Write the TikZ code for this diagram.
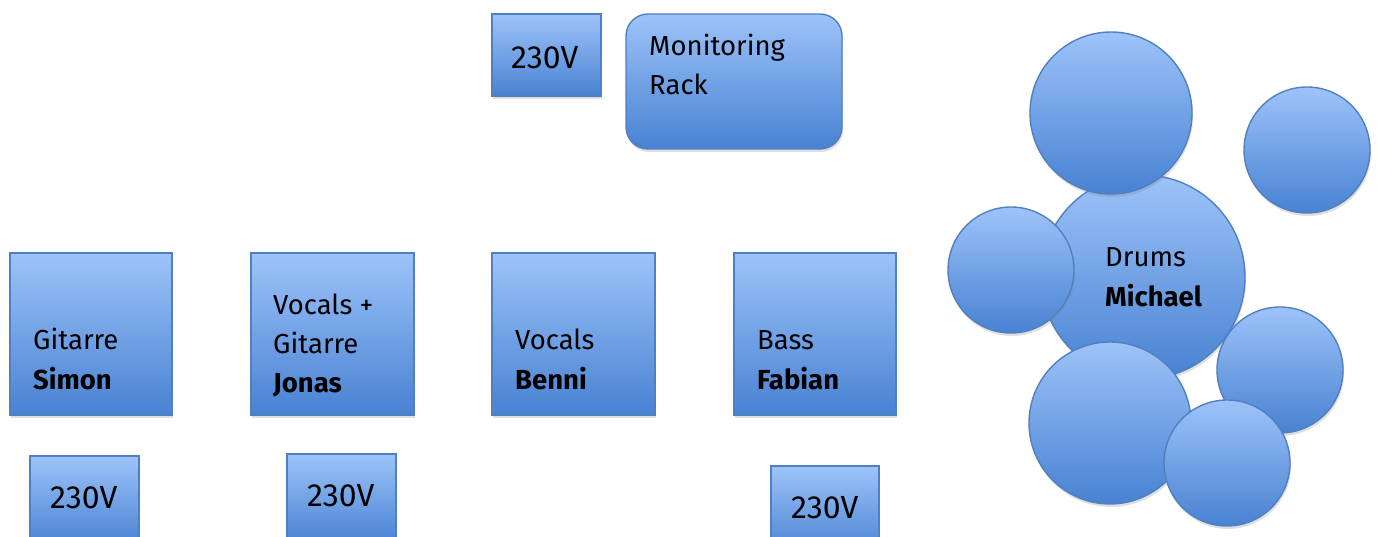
\documentclass[tikz,border=0pt]{standalone}
\usepackage{fontspec}
\setmainfont{Fira Sans}
\usetikzlibrary{shadows}
\definecolor{bxtop}{RGB}{157,195,249}
\definecolor{bxmid}{RGB}{137,179,240}
\definecolor{bxbot}{RGB}{72,130,210}
\definecolor{bxline}{RGB}{80,128,192}
\tikzset{
  shade/.style={top color=bxtop, middle color=bxmid, bottom color=bxbot, draw=bxline, line width=1.4pt,
    drop shadow={shadow xshift=1pt, shadow yshift=-3pt, opacity=0.25}},
  bx/.style={shade, rectangle, inner sep=0pt, minimum width=#1},
  lbl/.style={anchor=base west, inner sep=0pt, font=\fontsize{27.5}{32}\selectfont},
  volt/.style={anchor=base west, inner sep=0pt, font=\fontsize{32}{37}\selectfont},
  drum/.style={shade, circle, inner sep=0pt, minimum size=#1}
}
\begin{document}
\begin{tikzpicture}[x=1pt,y=-1pt]
\useasboundingbox[fill=white] (0,0) rectangle (1378,537);
% top row
\node[bx=109pt, minimum height=82pt] (v0) at (546.5,55) {};
\node[shade, rectangle, rounded corners=22pt, minimum width=216pt, minimum height=135pt] (mon) at (734,81.5) {};
\node[volt] (v0t) at (511,69) {230V};
\node[lbl] (mont1) at (649,56) {Monitoring};
\node[lbl] (mont2) at (649,95) {Rack};
% musicians
\node[bx=162pt, minimum height=162pt] (simon) at (91,334) {};
\node[bx=163pt, minimum height=162pt] (jonas) at (332.5,334) {};
\node[bx=163pt, minimum height=162pt] (benni) at (573.5,334) {};
\node[bx=162pt, minimum height=162pt] (fabian) at (815,334) {};
\node[lbl] (simon1) at (33,349) {Gitarre};
\node[lbl] (simon2) at (33,389) {\bfseries Simon};
\node[lbl] (jonas1) at (273,314) {Vocals +};
\node[lbl] (jonas2) at (273,353) {Gitarre};
\node[lbl] (jonas3) at (273,392) {\bfseries Jonas};
\node[lbl] (benni1) at (515,349) {Vocals};
\node[lbl] (benni2) at (515,389) {\bfseries Benni};
\node[lbl] (fabian1) at (757,349) {Bass};
\node[lbl] (fabian2) at (757,389) {\bfseries Fabian};
% bottom power
\node[bx=109pt, minimum height=90pt] (v1) at (84.5,501) {};
\node[bx=109pt, minimum height=90pt] (v2) at (341.5,499) {};
\node[bx=108pt, minimum height=90pt] (v3) at (825,511) {};
\node[volt] (v1t) at (50,508) {230V};
\node[volt] (v2t) at (307,506) {230V};
\node[volt] (v3t) at (791,518) {230V};
% drums
\node[drum=204pt] (kick) at (1143,277) {};
\node[drum=162pt] (tomtop) at (1111,113) {};
\node[drum=126pt] (tomleft) at (1011,270) {};
\node[drum=162pt] (floor) at (1110,423) {};
\node[drum=126pt] (cymr) at (1280,370) {};
\node[drum=126pt] (cymb) at (1227,463) {};
\node[drum=126pt] (cymt) at (1307,150) {};
\node[lbl] (drums1) at (1105,267) {Drums};
\node[lbl] (drums2) at (1105,306) {\bfseries Michael};
\end{tikzpicture}
\end{document}
